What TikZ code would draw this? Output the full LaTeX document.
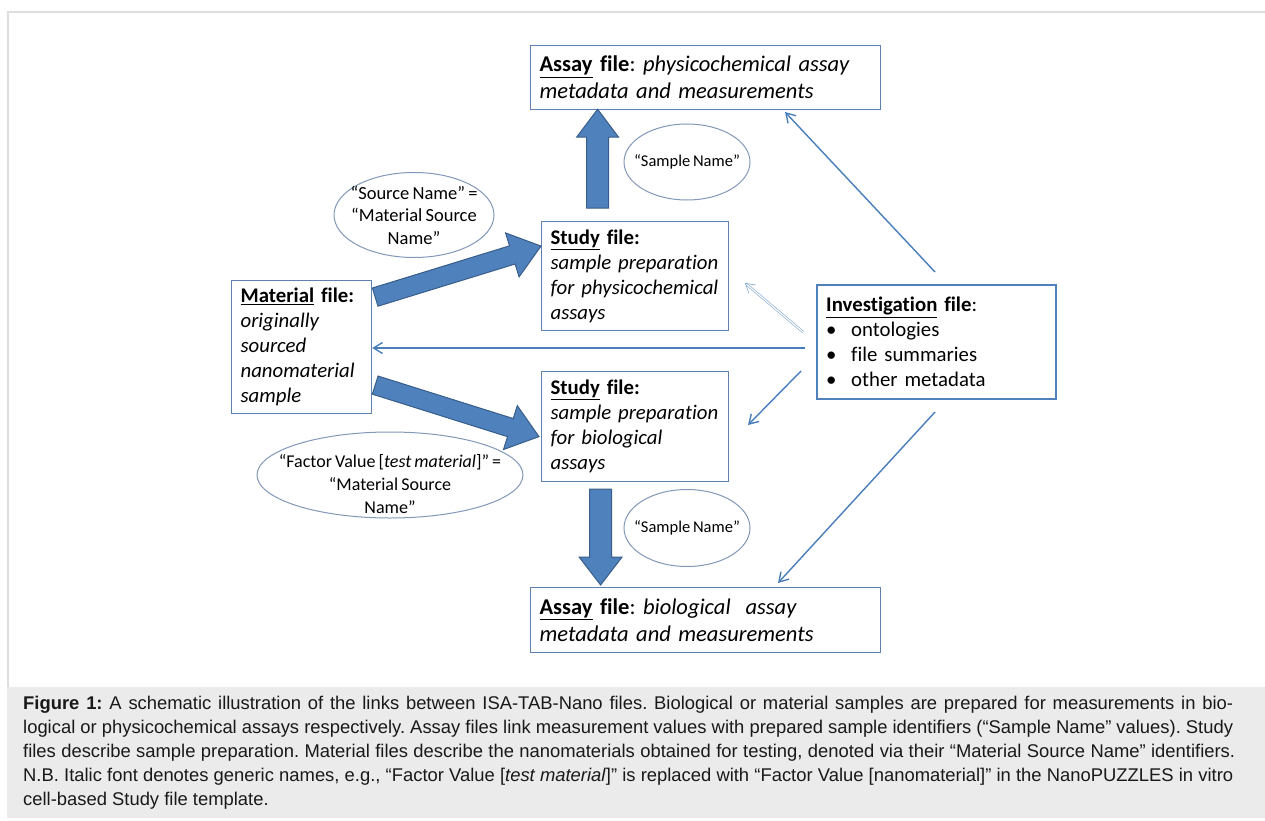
\documentclass[tikz,border=0pt]{standalone}
\usepackage{fontspec}
\setmainfont{Carlito}[Ligatures=NoCommon, WordSpace=0.75]
\newfontfamily\capfont{Liberation Sans}
\usetikzlibrary{calc,shapes.geometric,arrows.meta}
\definecolor{boxblue}{RGB}{96,128,176}
\definecolor{invblue}{RGB}{79,129,189}
\definecolor{arrfill}{RGB}{79,129,189}
\definecolor{arrdraw}{RGB}{56,93,138}
\definecolor{thinblue}{RGB}{74,126,187}
\definecolor{ellgray}{RGB}{130,152,185}
\definecolor{capbg}{RGB}{235,235,235}
\definecolor{framegray}{RGB}{222,222,222}
\definecolor{captext}{RGB}{25,25,25}
\newcommand\blockarrow[5]{%
  \draw[bigarrow] ($(#1)!#3!90:(#2)$) -- ($(#2)!#5!(#1)!#3!90:(#2)$)
    -- ($(#2)!#5!(#1)!#4!90:(#2)$) -- (#2)
    -- ($(#2)!#5!(#1)!#4!-90:(#2)$) -- ($(#2)!#5!(#1)!#3!-90:(#2)$)
    -- ($(#1)!#3!-90:(#2)$) -- cycle;}
\begin{document}
\begin{tikzpicture}[x=1pt,y=-1pt,
  filebox/.style={draw=boxblue, line width=1.2pt, anchor=north west, align=left,
    inner xsep=9pt, inner ysep=0pt, text=black, font=\fontsize{20.8}{25}\selectfont\frenchspacing},
  ell/.style={draw=ellgray, line width=1pt, ellipse, inner sep=0pt},
  elltext/.style={inner sep=0pt, align=center, text=black, font=\fontsize{18.5}{22.5}\selectfont},
  bigarrow/.style={fill=arrfill, draw=arrdraw, line width=1pt, line join=miter},
  thin/.style={draw=thinblue, line width=1.4pt, -{Straight Barb[length=9pt,width=11pt,line width=1.4pt]}},
  hollow/.style={draw=thinblue!70, line width=0.6pt, double=white, double distance=1.2pt,
    -{Straight Barb[length=9pt,width=11pt]}},
  capline/.style={anchor=base west, inner sep=0pt, text=captext,
    font=\capfont\fontsize{18.4}{24}\selectfont\frenchspacing}]
\useasboundingbox (0,0) rectangle (1265,821);
% frame and caption background
\fill[white] (0,0) rectangle (1265,821);
\draw[framegray, line width=1.2pt] (8,687) -- (8,12) -- (1265,12);
\fill[capbg] (7,687) rectangle (1265,818);

% boxes
\node[filebox, text width=332pt, minimum height=64pt, font=\fontsize{22.5}{27}\selectfont\frenchspacing] (assayP) at (530,45)
  {\underline{\textbf{Assay}} \textbf{file}: \textit{physicochemical assay}\\ \textit{metadata and measurements}};
\node[filebox, text width=169pt, minimum height=109pt] (studyP) at (541,221)
  {\underline{\textbf{Study}} \textbf{file:}\\ \mbox{\textit{sample preparation}}\\ \mbox{\textit{for physicochemical}}\\ \textit{assays}};
\node[filebox, text width=122pt, minimum height=133pt] (mat) at (231,280)
  {\underline{\textbf{Material}} \textbf{file:}\\ \textit{originally}\\ \textit{sourced}\\ \mbox{\textit{nanomaterial}}\\ \textit{sample}};
\node[filebox, draw=invblue, line width=2.4pt, text width=221pt, minimum height=114pt] (inv) at (816,284)
  {\underline{\textbf{Investigation}} \textbf{file}:\\
   \makebox[25pt][l]{•}ontologies\\ \makebox[25pt][l]{•}file summaries\\ \makebox[25pt][l]{•}other metadata};
\node[filebox, text width=169pt, minimum height=110pt] (studyB) at (541,371)
  {\underline{\textbf{Study}} \textbf{file:}\\ \mbox{\textit{sample preparation}}\\ \textit{for biological}\\ \textit{assays}};
\node[filebox, text width=332pt, minimum height=65pt, font=\fontsize{22.5}{27}\selectfont\frenchspacing] (assayB) at (530,587)
  {\underline{\textbf{Assay}} \textbf{file}: \textit{biological\ \ assay}\\ \textit{metadata and measurements}};

% ellipses (outline) and their texts
\node[ell, minimum width=126pt, minimum height=76pt] (snTop) at (687,162) {};
\node[elltext, font=\fontsize{16.5}{20}\selectfont] (snTopT) at (snTop.center) {“Sample Name”};
\node[ell, minimum width=126pt, minimum height=77pt] (snBot) at (687,528) {};
\node[elltext, font=\fontsize{16.5}{20}\selectfont] (snBotT) at (snBot.center) {“Sample Name”};
\node[ell, minimum width=160pt, minimum height=85pt] (srcEll) at (414,215) {};
\node[elltext] (srcT) at (srcEll.center) {“Source Name” =\\ “Material Source\\ Name”};
\node[ell, minimum width=266pt, minimum height=86pt] (facEll) at (390,475) {};
\node[elltext, font=\fontsize{18}{23}\selectfont] (facT) at ($(facEll.center)+(0,9)$)
  {“Factor Value [\textit{test material}]” =\\ “Material Source\\ Name”};

% block arrows
\coordinate (upA) at ($(studyP.north)+(-37.5,-13)$);
\coordinate (upB) at ($(assayP.south)+(-108,-1)$);
\blockarrow{upA}{upB}{11pt}{21pt}{28pt}
\coordinate (dnA) at ($(studyB.south)+(-34.5,7)$);
\coordinate (dnB) at ($(assayB.north)+(-105,-2)$);
\blockarrow{dnA}{dnB}{11pt}{21.5pt}{28pt}
\coordinate (m1A) at ($(mat.east)+(3,-50)$);
\coordinate (m1B) at ($(studyP.west)+(0,-30)$);
\blockarrow{m1A}{m1B}{9.5pt}{23pt}{30pt}
\coordinate (m2A) at ($(mat.east)+(3,38)$);
\coordinate (m2B) at ($(studyB.west)+(-2,10)$);
\blockarrow{m2A}{m2B}{9.5pt}{23pt}{30pt}

% thin arrows from the investigation file
\coordinate (i1) at (935,272);
\coordinate (e1) at (785,112);
\draw[thin] (i1) -- (e1);
\coordinate (i2) at (803,332);
\coordinate (e2) at (745,283);
\draw[hollow] (i2) -- (e2);
\coordinate (i3) at (805,348);
\draw[thin] (i3) -- (mat.east |- i3);
\coordinate (i4) at (801,371);
\coordinate (e4) at (748,425);
\draw[thin] (i4) -- (e4);
\coordinate (i5) at (935,412);
\coordinate (e5) at (778,583);
\draw[thin] (i5) -- (e5);

% caption
\node[capline] (c1) at (23,709) {\makebox[1210pt][s]{\textbf{Figure 1:} A schematic illustration of the links between ISA-TAB-Nano files. Biological or material samples are prepared for measurements in bio-}};
\node[capline] (c2) at (23,733) {\makebox[1210pt][s]{logical or physicochemical assays respectively. Assay files link measurement values with prepared sample identifiers (“Sample Name” values). Study}};
\node[capline] (c3) at (23,757) {\makebox[1212pt][s]{files describe sample preparation. Material files describe the nanomaterials obtained for testing, denoted via their “Material Source Name” identifiers.}};
\node[capline] (c4) at (23,781) {\makebox[1210pt][s]{N.B. Italic font denotes generic names, e.g., “Factor Value [\textit{test material}]” is replaced with “Factor Value [nanomaterial]” in the NanoPUZZLES in vitro}};
\node[capline] (c5) at (23,805) {cell-based Study file template.};
\end{tikzpicture}
\end{document}
